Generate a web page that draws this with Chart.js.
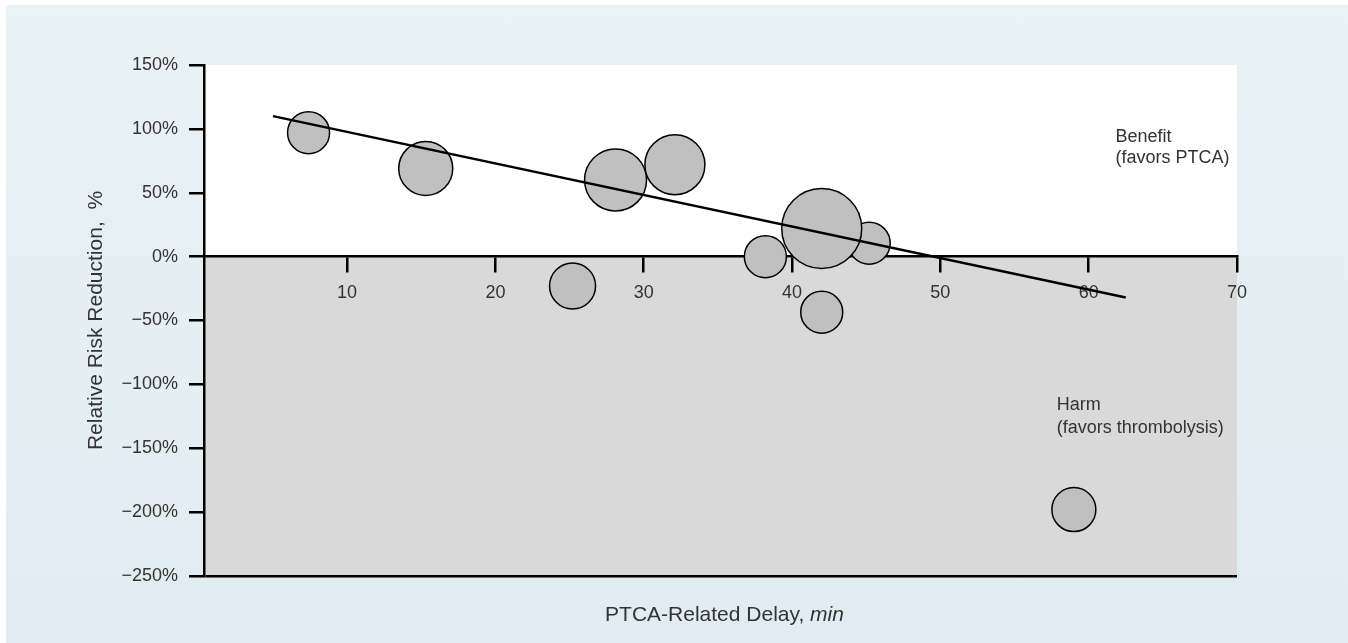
<!DOCTYPE html>
<html lang="en">
<head>
    <meta charset="UTF-8">
    <title>PTCA-Related Delay vs Relative Risk Reduction</title>
    <script src="https://cdn.jsdelivr.net/npm/chart.js"></script>
    <style>
        body { margin: 0; background: #fff; width: 1348px; height: 643px; overflow: hidden; position: relative; }
        #panel { position: absolute; left: 6px; top: 5px; right: 0; bottom: 0;
                 background: linear-gradient(#e9f2f5, #e1ecf2); }
        #chart { position: absolute; left: 0; top: 0; }
    </style>
</head>
<body>
    <div id="panel"></div>
    <canvas id="chart" width="1348" height="643"></canvas>
    <script>
        // trials: PTCA-related delay (min), relative risk reduction (%), bubble size
        const delayMin = [7.4, 15.3, 25.2, 28.1, 32.1, 38.2, 45.2, 42.0, 59.0, 42.0];
        const rrrPct   = [97, 69, -23, 60, 72, 0, 10.5, -43.5, -198, 22];
        const bubbleR  = [21, 27, 23, 31, 30, 21, 21, 21, 22, 40];

        // fitted regression line end points
        const fitX = [5, 62.5];
        const fitY = [110, -32];

        const xTicks = [10, 20, 30, 40, 50, 60, 70];
        const yTicks = [-250, -200, -150, -100, -50, 0, 50, 100, 150];

        const FONT = "'Liberation Sans', Arial, Helvetica, sans-serif";
        const TEXT = '#333';

        const bubbles = delayMin.map((d, i) => ({ x: d, y: rrrPct[i], r: bubbleR[i] }));
        const fitLine = fitX.map((d, i) => ({ x: d, y: fitY[i] }));

        const fmtPct = v => (v < 0 ? '\u2212' + Math.abs(v) : v) + '%';

        // white "benefit" half above 0, grey "harm" half below
        const zonesPlugin = {
            id: 'zones',
            beforeDraw(chart) {
                const { ctx, chartArea: a, scales: { y } } = chart;
                const y0 = y.getPixelForValue(0);
                ctx.save();
                ctx.fillStyle = '#ffffff';
                ctx.fillRect(a.left, a.top, a.right - a.left, y0 - a.top);
                ctx.fillStyle = '#d9d9d9';
                ctx.fillRect(a.left, y0, a.right - a.left, a.bottom - y0);
                ctx.restore();
            }
        };

        const labelsPlugin = {
            id: 'labels',
            afterDraw(chart) {
                const { ctx, chartArea: a, scales: { x, y } } = chart;
                ctx.save();
                ctx.fillStyle = TEXT;
                ctx.textBaseline = 'alphabetic';
                ctx.textAlign = 'left';
                ctx.font = '18px ' + FONT;
                let bx = x.getPixelForValue(61.8), by = y.getPixelForValue(89.7);
                ctx.fillText('Benefit', bx, by);
                ctx.fillText('(favors PTCA)', bx, by + 21);
                let hx = x.getPixelForValue(57.85), hy = y.getPixelForValue(-120);
                ctx.fillText('Harm', hx, hy);
                ctx.fillText('(favors thrombolysis)', hx, hy + 23);

                // x axis title with italic unit
                const main = 'PTCA-Related Delay, ';
                ctx.font = '21px ' + FONT;
                const w1 = ctx.measureText(main).width;
                ctx.font = 'italic 21px ' + FONT;
                const w2 = ctx.measureText('min').width;
                const sx = (a.left + a.right) / 2 + 4 - (w1 + w2) / 2;
                ctx.font = '21px ' + FONT;
                ctx.fillText(main, sx, 621);
                ctx.font = 'italic 21px ' + FONT;
                ctx.fillText('min', sx + w1, 621);
                ctx.restore();
            }
        };

        new Chart(document.getElementById('chart'), {
            type: 'bubble',
            data: {
                datasets: [
                    {
                        type: 'line',
                        data: fitLine,
                        borderColor: '#000',
                        borderWidth: 2.5,
                        pointRadius: 0,
                        fill: false,
                        order: 0
                    },
                    {
                        data: bubbles,
                        backgroundColor: '#c0c0c0',
                        borderColor: '#000',
                        borderWidth: 1.5,
                        order: 1
                    }
                ]
            },
            options: {
                responsive: false,
                animation: false,
                events: [],
                layout: { padding: { left: 80, top: 65, right: 111, bottom: 67 } },
                plugins: { legend: { display: false }, tooltip: { enabled: false } },
                scales: {
                    x: {
                        type: 'linear',
                        position: { y: 0 },
                        min: 0.35,
                        max: 70,
                        z: 1,
                        afterBuildTicks: s => { s.ticks = xTicks.map(v => ({ value: v })); },
                        border: { display: true, color: '#000', width: 2.5 },
                        grid: { drawOnChartArea: false, tickLength: 15, tickColor: '#000', tickWidth: 2.5, lineWidth: 2.5 },
                        ticks: { color: TEXT, padding: 11, font: { family: FONT, size: 18 }, maxRotation: 0 }
                    },
                    y: {
                        type: 'linear',
                        position: 'left',
                        min: -250,
                        max: 150,
                        afterBuildTicks: s => { s.ticks = yTicks.map(v => ({ value: v })); },
                        afterFit: s => { s.width = 124; },
                        border: { display: true, color: '#000', width: 2.5 },
                        grid: {
                            drawOnChartArea: true,
                            tickLength: 15,
                            tickColor: '#000',
                            lineWidth: 2.5,
                            color: c => (c.tick && c.tick.value === -250 ? '#000' : 'rgba(0,0,0,0)')
                        },
                        ticks: { color: TEXT, padding: 11, font: { family: FONT, size: 18 }, callback: fmtPct },
                        title: {
                            display: true,
                            text: 'Relative Risk Reduction,  %',
                            color: TEXT,
                            font: { family: FONT, size: 21 }
                        }
                    }
                }
            },
            plugins: [zonesPlugin, labelsPlugin]
        });
    </script>
</body>
</html>
